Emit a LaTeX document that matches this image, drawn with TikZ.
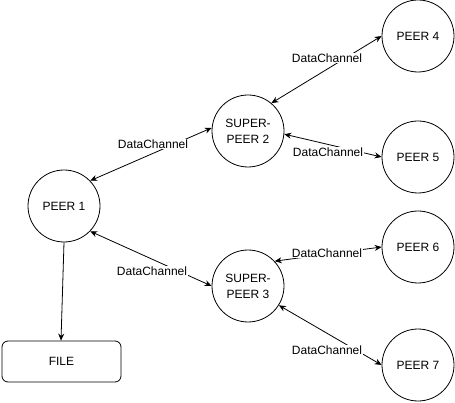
\documentclass[tikz,border=0pt]{standalone}
\usepackage{fontspec}
\setmainfont{Liberation Sans}
\usepackage{tikz}
\usetikzlibrary{arrows.meta,positioning}

\begin{document}
\begin{tikzpicture}[x=1pt, y=-1pt, line width=0.8pt,
  every node/.style={font=\fontsize{12}{16}\selectfont},
  peer/.style={draw, circle, minimum size=72pt, inner sep=0pt, align=center},
  filebox/.style={draw, rounded corners=6pt, minimum width=119pt, minimum height=41pt},
  lbl/.style={fill=white, inner sep=1pt},
  link/.style={{Stealth[length=7pt,width=6pt]}-{Stealth[length=7pt,width=6pt]}}]
\useasboundingbox (0,0) rectangle (455,403);
\node[peer] (p1) at (64,206) {PEER 1};
\node[peer] (sp2) at (248,131) {SUPER-\\PEER 2};
\node[peer] (sp3) at (248,286) {SUPER-\\PEER 3};
\node[peer] (p4) at (418,36) {PEER 4};
\node[peer] (p5) at (418,157) {PEER 5};
\node[peer] (p6) at (418,247) {PEER 6};
\node[peer] (p7) at (418,365) {PEER 7};
\node[filebox] (file) at (61.5,361.5) {FILE};
\draw[-{Stealth[length=7pt,width=6pt]}] (p1.south) -- (file.north -| 61,0);
\draw[link] (p1.44) -- (sp2.175) node[lbl] at (153,144) {DataChannel};
\draw[link] (p1.-44) -- (sp3.180) node[lbl] at (152,271) {DataChannel};
\draw[link] (sp2.50) -- (p4.180) node[lbl] at (327,58) {DataChannel};
\draw[link] (sp2.-5) -- (p5.180) node[lbl] at (328,152) {DataChannel};
\draw[link] (sp3.43) -- (p6.180) node[lbl] at (327,253) {DataChannel};
\draw[link] (sp3.-32) -- (p7.180) node[lbl] at (327,350) {DataChannel};
\end{tikzpicture}
\end{document}
